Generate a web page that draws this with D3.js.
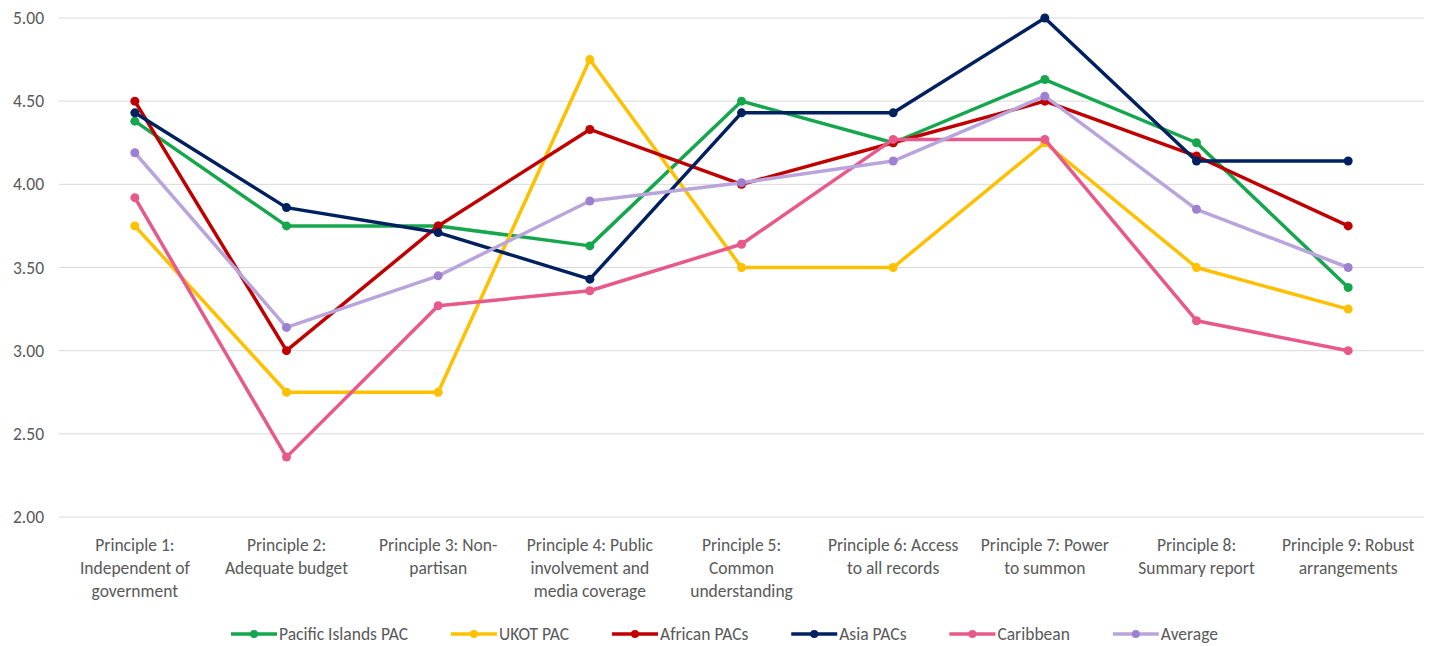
<!DOCTYPE html>
<html><head><meta charset="utf-8">
<script src="https://cdn.jsdelivr.net/npm/d3@7"></script>
<style>
body{margin:0;background:#fff;}
text{font-family:Carlito,Lato,"Liberation Sans",Arial,sans-serif;fill:#595959;}
</style></head>
<body><svg id="chart" width="1440" height="646"></svg>
<script>
const categories = [
  "Principle 1:\nIndependent of\ngovernment",
  "Principle 2:\nAdequate budget",
  "Principle 3: Non-\npartisan",
  "Principle 4: Public\ninvolvement and\nmedia coverage",
  "Principle 5:\nCommon\nunderstanding",
  "Principle 6: Access\nto all records",
  "Principle 7: Power\nto summon",
  "Principle 8:\nSummary report",
  "Principle 9: Robust\narrangements"
];
const seriesNames = ["Pacific Islands PAC","UKOT PAC","African PACs","Asia PACs","Caribbean","Average"];
const pacificIslands = [4.38,3.75,3.75,3.63,4.50,4.25,4.63,4.25,3.38];
const ukot = [3.75,2.75,2.75,4.75,3.50,3.50,4.25,3.50,3.25];
const african = [4.50,3.00,3.75,4.33,4.00,4.25,4.50,4.17,3.75];
const asia = [4.43,3.86,3.71,3.43,4.43,4.43,5.00,4.14,4.14];
const caribbean = [3.92,2.36,3.27,3.36,3.64,4.27,4.27,3.18,3.00];
const average = [4.19,3.14,3.45,3.90,4.01,4.14,4.53,3.85,3.50];
const yTicks = [2.00,2.50,3.00,3.50,4.00,4.50,5.00];

(function(){
const seriesValues = [pacificIslands, ukot, african, asia, caribbean, average];
const colors = ["#16a74e","#ffc000","#c00000","#002060","#e8598b","#b9a4dc"];
const markerColors = ["#16a74e","#ffc000","#c00000","#002060","#e8598b","#9d80cf"];
const fs = 17.5;

const svg = d3.select("#chart");
const mLeft = 59, mRight = 1424, mTop = 18, mBottom = 517;
const x = d3.scaleBand().domain(categories).range([mLeft,mRight]).padding(0);
const y = d3.scaleLinear().domain([2,5]).range([mBottom,mTop]);

svg.append("g").selectAll("line").data(yTicks).join("line")
  .attr("x1",mLeft).attr("x2",mRight)
  .attr("y1",d=>y(d)).attr("y2",d=>y(d))
  .attr("stroke","#d9d9d9").attr("stroke-width",1);

svg.append("g").selectAll("text").data(yTicks).join("text")
  .attr("x",44).attr("y",d=>y(d)).attr("dy","0.35em")
  .attr("text-anchor","end").attr("font-size",fs)
  .text(d=>d.toFixed(2));

const xl = svg.append("g").selectAll("text").data(categories).join("text")
  .attr("text-anchor","middle").attr("font-size",fs)
  .attr("transform",d=>`translate(${x(d)+x.bandwidth()/2},${551})`);
xl.each(function(d){
  const t = d3.select(this);
  d.split("\n").forEach((ln,i)=>{
    t.append("tspan").attr("x",0).attr("y",i*23).text(ln);
  });
});

const line = d3.line().x((d,i)=>x(categories[i])+x.bandwidth()/2).y(d=>y(d));
seriesValues.forEach((vals,si)=>{
  const g = svg.append("g");
  g.append("path").datum(vals).attr("d",line)
    .attr("fill","none").attr("stroke",colors[si]).attr("stroke-width",3.5)
    .attr("stroke-linejoin","round");
  g.selectAll("circle").data(vals).join("circle")
    .attr("cx",(d,i)=>x(categories[i])+x.bandwidth()/2).attr("cy",d=>y(d))
    .attr("r",4.5).attr("fill",markerColors[si]);
});

const legend = svg.append("g");
const ly = 634;
let items = [];
seriesNames.forEach((n,i)=>{
  const g = legend.append("g");
  g.append("line").attr("x1",0).attr("x2",46).attr("y1",0).attr("y2",0)
    .attr("stroke",colors[i]).attr("stroke-width",3.5);
  g.append("circle").attr("cx",23).attr("cy",0).attr("r",4).attr("fill",markerColors[i]);
  const t = g.append("text").attr("x",48).attr("y",0).attr("dy","0.35em").attr("font-size",fs).text(n);
  items.push({g, w:48+t.node().getComputedTextLength()});
});
const gap = 26;
const total = d3.sum(items,d=>d.w)+gap*(items.length-1);
let cx = 231;
const scaleGap = (1218-231 - d3.sum(items,d=>d.w))/(items.length-1);
items.forEach(it=>{ it.g.attr("transform",`translate(${cx},${ly})`); cx += it.w+Math.max(12,scaleGap); });
})();
</script></body></html>
